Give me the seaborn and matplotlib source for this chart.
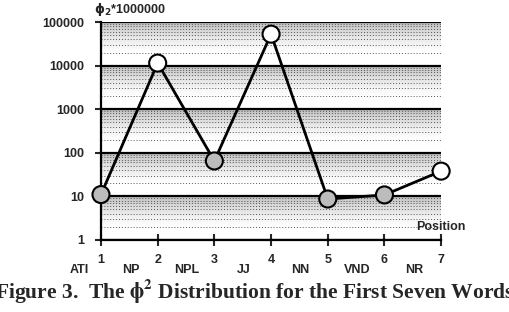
import numpy as np
import pandas as pd
import matplotlib
matplotlib.use("Agg")
import matplotlib.pyplot as plt
import seaborn as sns

positions = [1, 2, 3, 4, 5, 6, 7]
phi2_values = [11, 11500, 65, 53000, 8.7, 10.8, 38]
marker_style = ["shaded", "open", "shaded", "open", "shaded", "shaded", "open"]
tags = ["ATI", "NP", "NPL", "JJ", "NN", "VND", "NR"]
tag_positions = [0.62, 1.52, 2.52, 3.52, 4.52, 5.52, 6.52]
ytick_values = [1, 10, 100, 1000, 10000, 100000]
ytick_labels = ["1", "10", "100", "1000", "10000", "100000"]

df = pd.DataFrame({"position": positions, "phi2": phi2_values, "style": marker_style})

sns.set_style("white")
plt.rcParams["font.family"] = ["Liberation Sans", "DejaVu Sans"]

fig = plt.figure(figsize=(5.10, 3.12), dpi=100)
ax = fig.add_axes([0.198, 0.231, 0.667, 0.698])
ax.set_yscale("log")
ax.set_xlim(1, 7)
ax.set_ylim(1, 100000)

# shaded bands: darker just below each major line, fading downward
nsub = 24
for k in range(5):
    for i in range(nsub):
        f0 = i / nsub
        f1 = (i + 1) / nsub
        lo = 10 ** (k + 1 - f1)
        hi = 10 ** (k + 1 - f0)
        g = max(0.0, 1 - (f0 / 0.7)) ** 1.4
        ax.axhspan(lo, hi, color=(0.6, 0.6, 0.6), alpha=0.6 * g, lw=0, zorder=0)

# dotted minor lines
ax.yaxis.set_minor_locator(matplotlib.ticker.LogLocator(base=10, subs=np.arange(2, 10)))
ax.yaxis.set_minor_formatter(matplotlib.ticker.NullFormatter())
ax.grid(which="minor", axis="y", color="#555555", linestyle=(0, (1, 2)), linewidth=0.7, zorder=1)
ax.grid(which="major", axis="y", color="black", linewidth=1.6, zorder=2)
ax.grid(which="major", axis="x", visible=False)

sns.lineplot(data=df, x="position", y="phi2", color="black", linewidth=2.0, ax=ax,
             zorder=3, legend=False)
sns.scatterplot(data=df, x="position", y="phi2", hue="style",
                palette={"shaded": "#bcbcbc", "open": "white"},
                s=150, edgecolor="black", linewidth=1.5, ax=ax, zorder=4,
                legend=False, clip_on=False)

for sp in ["top", "right"]:
    ax.spines[sp].set_visible(False)
for sp in ["left", "bottom"]:
    ax.spines[sp].set_color("black")
    ax.spines[sp].set_linewidth(1.6)

ax.set_yticks(ytick_values)
ax.set_yticklabels(ytick_labels, fontweight="bold", fontsize=9)
ax.tick_params(axis="y", which="major", direction="out", length=4, width=1.5, left=True, pad=8)
ax.tick_params(axis="y", which="minor", left=False)
ax.set_xticks(positions)
ax.set_xticklabels([str(p) for p in positions], fontweight="bold", fontsize=9)
ax.tick_params(axis="x", which="major", direction="inout", length=8, width=1.5, bottom=True, pad=6)

ax.set_xlabel("")
ax.set_ylabel("")

for t, xp in zip(tags, tag_positions):
    ax.text(xp, -0.14, t, transform=ax.get_xaxis_transform(), ha="center", va="center",
            fontweight="bold", fontsize=9)

ax.text(1.0, 0.06, "Position", transform=ax.transAxes, ha="center", va="center",
        fontweight="bold", fontsize=9)

ax.text(-0.02, 1.02, r"$\mathbf{\phi_2}$*1000000", transform=ax.transAxes, ha="left",
        va="bottom", fontweight="bold", fontsize=9)

fig.text(0.5, 0.07, r"Figure 3.  The $\mathbf{\phi^2}$ Distribution for the First Seven Words",
         ha="center", va="center", fontsize=15.5, fontweight="bold",
         family=["Liberation Serif", "DejaVu Serif"], math_fontfamily="stix")

fig.savefig("out.png", dpi=100)
